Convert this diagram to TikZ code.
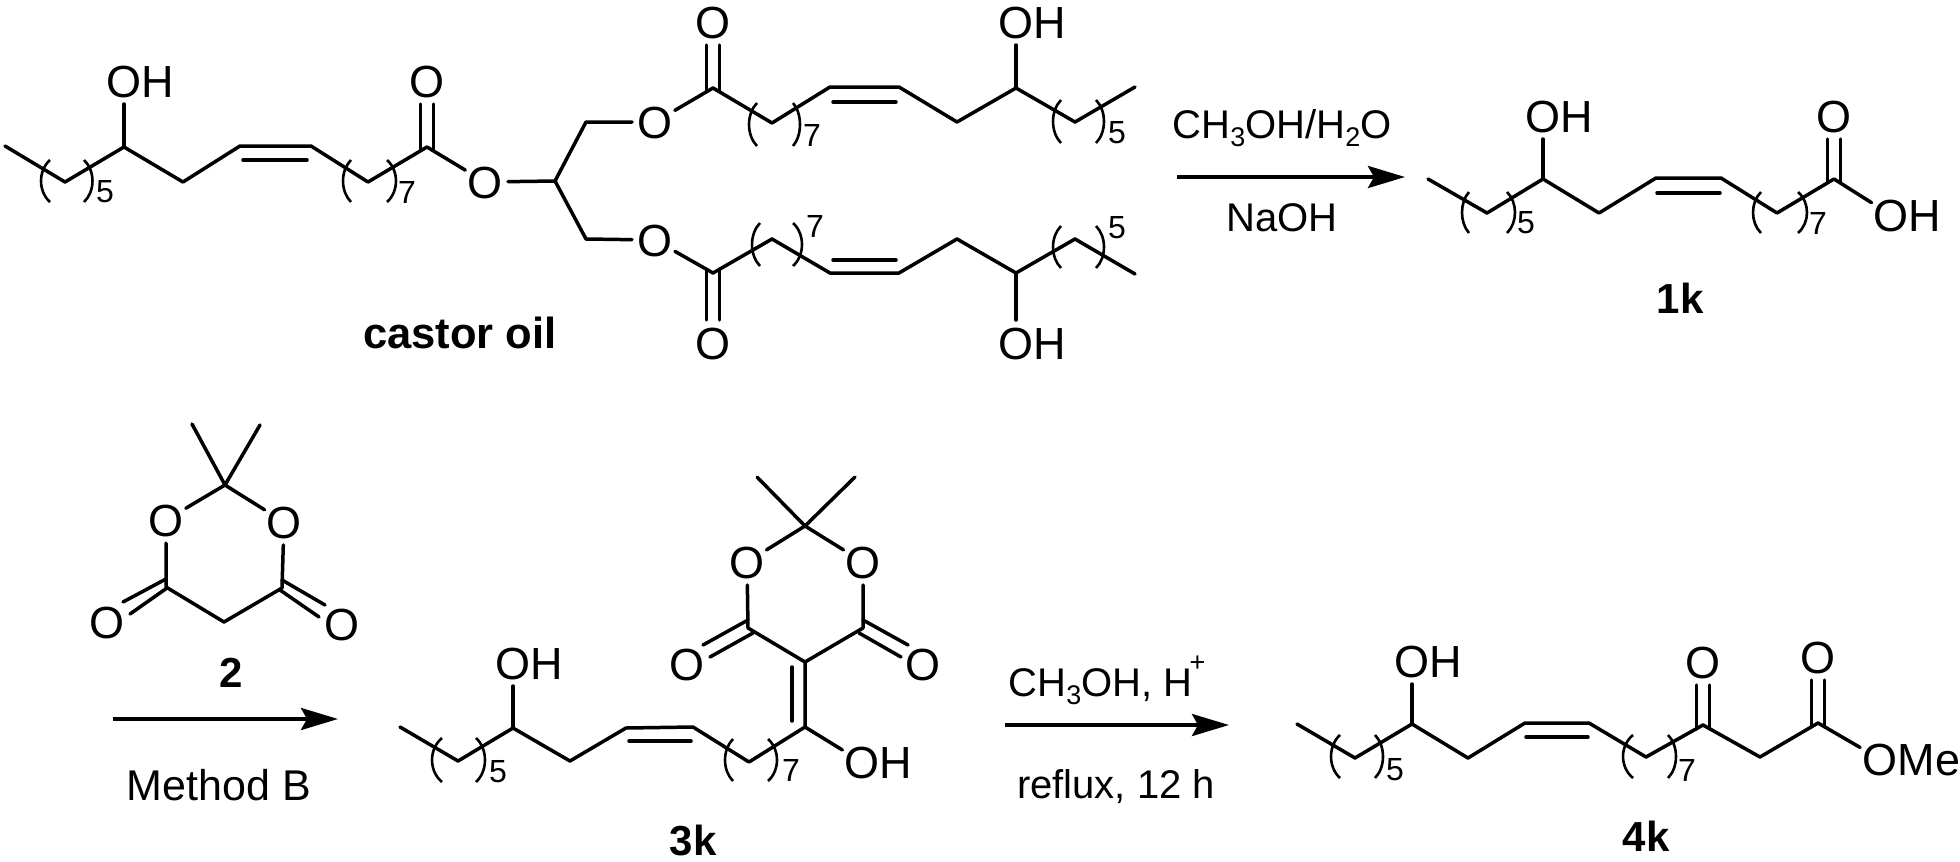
\documentclass[tikz,border=0pt]{standalone}
\usepackage{fontspec}
\setmainfont{Liberation Sans}
\usetikzlibrary{arrows.meta}
\newcommand\At[1]{\makebox[0pt]{\raisebox{-.36em}[0pt][0pt]{O\rlap{#1}}}}
\newcommand\Sb[1]{\raisebox{-.2em}{\fontsize{27}{27}\selectfont #1}}
\newcommand\Sp[1]{\kern-3pt\raisebox{.62em}{\fontsize{27}{27}\selectfont #1}}
\newcommand\Par[4]{\draw[paren] (#1,#3) .. controls ({#1+(#2-#1)*1.33},{#3+(#4-#3)*.25}) and ({#1+(#2-#1)*1.33},{#3+(#4-#3)*.75}) .. (#1,#4);}
\newcommand\DblUp[2]{\draw[bond] ([shift={(-6.5,4)}]#1) -- ([shift={(-6.5,0)}]#2.south); \draw[bond] ([shift={(6.5,4)}]#1) -- ([shift={(6.5,0)}]#2.south);}
\newcommand\DblDn[2]{\draw[bond] ([shift={(-6.5,-4)}]#1) -- ([shift={(-6.5,0)}]#2.north); \draw[bond] ([shift={(6.5,-4)}]#1) -- ([shift={(6.5,0)}]#2.north);}
\tikzset{
  bond/.style={line width=3.5pt,line cap=round,line join=round,black},
  paren/.style={line width=2.6pt,black},
  atm/.style={circle,inner sep=0pt,outer sep=0pt,minimum size=46pt,font=\fontsize{45}{50}\selectfont},
  cnt/.style={inner sep=0pt,font=\fontsize{32}{36}\selectfont},
  rgt/.style={inner sep=0pt,font=\fontsize{40}{44}\selectfont},
  cmpd/.style={inner sep=0pt,font=\fontsize{42}{46}\selectfont\bfseries},
  rxn/.style={line width=3.8pt,-{Stealth[length=37pt,width=22pt,inset=6pt]}},
}
\begin{document}
\begin{tikzpicture}[x=1pt,y=-1pt]
\useasboundingbox (0,0) rectangle (1960,862);
\fill[white] (0,0) rectangle (1960,862);
%% castor oil, left arm
\coordinate (a1) at (5,146); \coordinate (a2) at (65,182); \coordinate (a3) at (124,147);
\coordinate (a4) at (183,182); \coordinate (a5) at (240,146); \coordinate (a6) at (311,146);
\coordinate (a7) at (368,182); \coordinate (a8) at (427,147);
\coordinate (a5i) at (243,160); \coordinate (a6i) at (307,160);
\node[atm] (ah) at (124,81) {\At{H}};
\node[atm] (ao) at (427,81) {\At{}};
\node[atm] (ae) at (485,182) {\At{}};
\draw[bond] (a1)--(a2)--(a3)--(a4)--(a5)--(a6)--(a7)--(a8)--(ae);
\draw[bond] (a5i)--(a6i);
\draw[bond] (a3)--(ah);
\DblUp{a8}{ao}
\Par{50}{41}{160}{202} \Par{84}{92.5}{160}{202}
\node[cnt] (a5n) at (105,192) {5};
\Par{351}{343}{160}{202} \Par{387}{396}{160}{202}
\node[cnt] (a7n) at (407,192) {7};
\node[cmpd,font=\fontsize{43.5}{46}\selectfont\bfseries] (castor) at (460,333) {castor oil};
%% glycerol
\coordinate (g) at (555,181); \coordinate (g1) at (586,122); \coordinate (g2) at (586,239);
\node[atm] (o1) at (655,122) {\At{}};
\node[atm] (o2) at (655,240) {\At{}};
\draw[bond] (ae)--(g); \draw[bond] (g)--(g1)--(o1); \draw[bond] (g)--(g2)--(o2);
%% upper arm
\coordinate (b1) at (713,88); \coordinate (b2) at (772,123); \coordinate (b3) at (830,87);
\coordinate (b4) at (899,87); \coordinate (b5) at (957,122); \coordinate (b6) at (1016,88);
\coordinate (b7) at (1075,122); \coordinate (b8) at (1135,87);
\coordinate (b3i) at (833,102); \coordinate (b4i) at (896,102);
\node[atm] (bo) at (713,22) {\At{}};
\node[atm] (bh) at (1016,22) {\At{H}};
\draw[bond] (o1)--(b1)--(b2)--(b3)--(b4)--(b5)--(b6)--(b7)--(b8);
\draw[bond] (b3i)--(b4i);
\draw[bond] (b6)--(bh);
\DblUp{b1}{bo}
\Par{757}{749}{103}{146} \Par{793}{800}{103}{146}
\node[cnt] (b7n) at (812,135) {7};
\Par{1061}{1053}{100}{143} \Par{1096}{1104}{100}{143}
\node[cnt] (b5n) at (1117,133) {5};
%% lower arm
\coordinate (d1) at (713,273); \coordinate (d2) at (772,239); \coordinate (d3) at (830,273);
\coordinate (d4) at (899,273); \coordinate (d5) at (957,239); \coordinate (d6) at (1016,273);
\coordinate (d7) at (1075,239); \coordinate (d8) at (1135,274);
\coordinate (d3i) at (833,260); \coordinate (d4i) at (896,260);
\node[atm] (do) at (713,343) {\At{}};
\node[atm] (dh) at (1016,343) {\At{H}};
\draw[bond] (o2)--(d1)--(d2)--(d3)--(d4)--(d5)--(d6)--(d7)--(d8);
\draw[bond] (d3i)--(d4i);
\draw[bond] (d6)--(dh);
\DblDn{d1}{do}
\Par{760}{752}{223}{266} \Par{793}{802}{223}{266}
\node[cnt] (d7n) at (815,226) {7};
\Par{1061}{1053}{226}{268} \Par{1096}{1104}{226}{268}
\node[cnt] (d5n) at (1117,228) {5};
%% arrow 1
\coordinate (r1a) at (1177,177); \coordinate (r1b) at (1405,177);
\draw[rxn] (r1a)--(r1b);
\node[rgt] (r1t) at (1282,128) {CH\Sb{3}OH/H\Sb{2}O};
\node[rgt] (r1u) at (1282,218) {NaOH};
%% 1k
\coordinate (e1) at (1428,179); \coordinate (e2) at (1487,213); \coordinate (e3) at (1543,179);
\coordinate (e4) at (1599,213); \coordinate (e5) at (1656,178); \coordinate (e6) at (1721,178);
\coordinate (e7) at (1777,213); \coordinate (e8) at (1834,179);
\coordinate (e5i) at (1657,193); \coordinate (e6i) at (1720,193);
\node[atm] (eh) at (1543,116) {\At{H}};
\node[atm] (eo) at (1834,116) {\At{}};
\node[atm] (eoh) at (1891,215) {\At{H}};
\draw[bond] (e1)--(e2)--(e3)--(e4)--(e5)--(e6)--(e7)--(e8)--(eoh);
\draw[bond] (e5i)--(e6i);
\draw[bond] (e3)--(eh);
\DblUp{e8}{eo}
\Par{1469}{1462}{192}{233} \Par{1507}{1515}{192}{233}
\node[cnt] (e5n) at (1526,223) {5};
\Par{1761}{1753}{192}{233} \Par{1798}{1807}{192}{233}
\node[cnt] (e7n) at (1818,223) {7};
\node[cmpd] (k1) at (1680,298) {1k};
%% Meldrum's acid 2
\coordinate (m1) at (192,424); \coordinate (m2) at (260,425); \coordinate (mc) at (225,485);
\coordinate (ml) at (166,587); \coordinate (mr) at (282,588); \coordinate (mm) at (224,622);
\node[atm] (mol) at (166,520) {\At{}};
\node[atm] (mor) at (284,522) {\At{}};
\node[atm] (mxl) at (107,622) {\At{}};
\node[atm] (mxr) at (342,624) {\At{}};
\draw[bond] (m1)--(mc)--(m2);
\draw[bond] (mol)--(mc)--(mor);
\draw[bond] (mol)--(ml)--(mm)--(mr)--(mor);
\draw[bond] ([shift={(0,-8)}]ml)--([shift={(16,-20)}]mxl.center);
\draw[bond] ([shift={(1,1)}]ml)--([shift={(23,-8)}]mxl.center);
\draw[bond] ([shift={(0,-8)}]mr)--([shift={(-17,-19)}]mxr.center);
\draw[bond] ([shift={(-2,2)}]mr)--([shift={(-23,-7)}]mxr.center);
\node[cmpd] (c2) at (231,673) {2};
%% arrow 2
\coordinate (r2a) at (113,719); \coordinate (r2b) at (338,719);
\draw[rxn] (r2a)--(r2b);
\node[rgt,font=\fontsize{43}{46}\selectfont] (r2t) at (219,785) {Method B};
%% 3k
\coordinate (f1) at (400,727); \coordinate (f2) at (458,761); \coordinate (f3) at (513,728);
\coordinate (f4) at (570,761); \coordinate (f5) at (626,728); \coordinate (f6) at (693,727);
\coordinate (f7) at (749,762); \coordinate (f8) at (805,727);
\coordinate (f5i) at (629,741); \coordinate (f6i) at (691,741);
\coordinate (f9) at (805,662); \coordinate (fl) at (748,628); \coordinate (fr) at (863,628);
\coordinate (ft) at (805,526); \coordinate (fm1) at (757,477); \coordinate (fm2) at (855,477);
\coordinate (f8i) at (792,721); \coordinate (f9i) at (792,667);
\node[atm] (fh) at (513,663) {\At{H}};
\node[atm] (foh) at (862,762) {\At{H}};
\node[atm] (fol) at (747,562) {\At{}};
\node[atm] (for) at (863,562) {\At{}};
\node[atm] (fxl) at (687,664) {\At{}};
\node[atm] (fxr) at (923,664) {\At{}};
\draw[bond] (f1)--(f2)--(f3)--(f4)--(f5)--(f6)--(f7)--(f8)--(f9);
\draw[bond] (f5i)--(f6i);
\draw[bond] (f8i)--(f9i);
\draw[bond] (f3)--(fh);
\draw[bond] (f8)--(foh);
\draw[bond] (fol)--(fl)--(f9)--(fr)--(for);
\draw[bond] (fol)--(ft)--(for);
\draw[bond] (fm1)--(ft)--(fm2);
\draw[bond] ([shift={(0,-8)}]fl)--([shift={(16,-19)}]fxl.center);
\draw[bond] ([shift={(5,5)}]fl)--([shift={(23,-7)}]fxl.center);
\draw[bond] ([shift={(0,-8)}]fr)--([shift={(-15,-19)}]fxr.center);
\draw[bond] ([shift={(-4,5)}]fr)--([shift={(-22,-7)}]fxr.center);
\Par{442}{432}{738}{782} \Par{476}{485}{738}{782}
\node[cnt] (f5n) at (498,772) {5};
\Par{733}{725}{739}{781} \Par{768}{777}{739}{781}
\node[cnt] (f7n) at (791,770) {7};
\node[cmpd] (k3) at (693,841) {3k};
%% arrow 3
\coordinate (r3a) at (1005,725); \coordinate (r3b) at (1229,725);
\draw[rxn] (r3a)--(r3b);
\node[rgt] (r3t) at (1107,680) {CH\Sb{3}OH, H\Sp{+}};
\node[rgt] (r3u) at (1116,787) {reflux, 12 h};
%% 4k
\coordinate (h1) at (1297,724); \coordinate (h2) at (1355,758); \coordinate (h3) at (1412,724);
\coordinate (h4) at (1468,758); \coordinate (h5) at (1525,723); \coordinate (h6) at (1589,723);
\coordinate (h7) at (1646,757); \coordinate (h8) at (1703,725); \coordinate (h9) at (1760,757);
\coordinate (h10) at (1818,723);
\coordinate (h5i) at (1526,737); \coordinate (h6i) at (1588,737);
\node[atm] (hh) at (1412,661) {\At{H}};
\node[atm] (hk) at (1703,662) {\At{}};
\node[atm] (hx) at (1818,657) {\At{}};
\node[atm] (hom) at (1880,759) {\At{Me}};
\draw[bond] (h1)--(h2)--(h3)--(h4)--(h5)--(h6)--(h7)--(h8)--(h9)--(h10)--(hom);
\draw[bond] (h5i)--(h6i);
\draw[bond] (h3)--(hh);
\DblUp{h8}{hk}
\DblUp{h10}{hx}
\Par{1340}{1331}{735}{778} \Par{1375}{1383}{735}{778}
\node[cnt] (h5n) at (1395,770) {5};
\Par{1633}{1623}{735}{778} \Par{1668}{1676}{735}{778}
\node[cnt] (h7n) at (1687,770) {7};
\node[cmpd] (k4) at (1646,836) {4k};
\end{tikzpicture}
\end{document}
